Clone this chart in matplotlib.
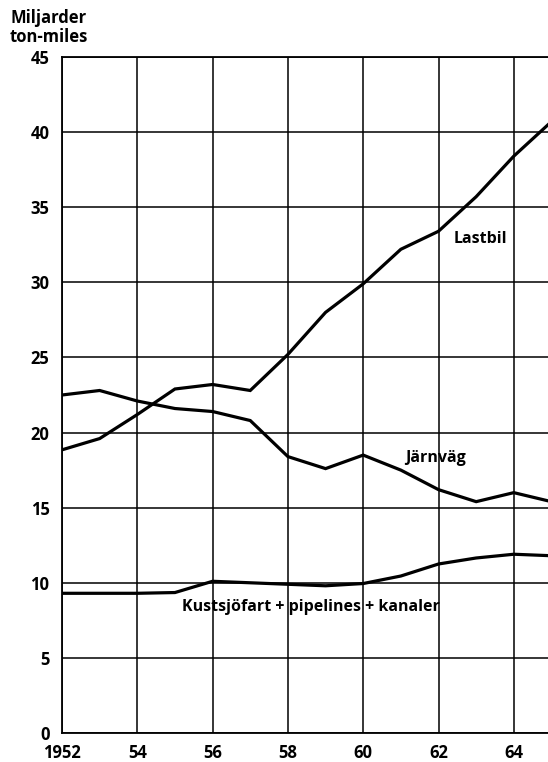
import matplotlib
matplotlib.use("Agg")
import matplotlib.pyplot as plt

years = list(range(1952, 1966))
lastbil = [18.85, 19.6, 21.2, 22.9, 23.2, 22.8, 25.2, 28.0, 29.9, 32.2, 33.4, 35.7, 38.4, 40.7]
jarnvag = [22.5, 22.8, 22.1, 21.6, 21.4, 20.8, 18.4, 17.6, 18.5, 17.5, 16.2, 15.4, 16.0, 15.4]
kust = [9.3, 9.3, 9.3, 9.35, 10.1, 10.0, 9.9, 9.8, 9.95, 10.45, 11.25, 11.65, 11.9, 11.8]
xticks = [1952, 1954, 1956, 1958, 1960, 1962, 1964]
xticklabels = ["1952", "54", "56", "58", "60", "62", "64"]
yticks = [0, 5, 10, 15, 20, 25, 30, 35, 40, 45]

plt.rcParams['font.family'] = ['Open Sans', 'DejaVu Sans']

fig = plt.figure(figsize=(5.48, 7.62), dpi=100)
ax = fig.add_axes([62/548, 29/762, 1 - 62/548, (733-57)/762])

for s in [lastbil, jarnvag, kust]:
    ax.plot(years, s, color='black', lw=2.3, solid_joinstyle='miter', zorder=3)

ax.set_xlim(1952, 1952 + (548-62)/37.65)
ax.set_ylim(0, 45)
ax.set_xticks(xticks)
ax.set_xticklabels(xticklabels, fontsize=12, fontweight='bold')
ax.set_yticks(yticks)
ax.set_yticklabels([str(v) for v in yticks], fontsize=12, fontweight='bold')
ax.tick_params(length=0, pad=9)
ax.tick_params(axis='x', pad=8)
ax.grid(True, color='black', lw=1.1)
for side in ['left', 'bottom', 'top']:
    ax.spines[side].set_linewidth(1.3)
ax.spines['right'].set_visible(False)

ax.text(1963.1, 32.9, "Lastbil", fontsize=11.5, fontweight='bold', ha='center', va='center')
ax.text(1961.93, 18.3, "Järnväg", fontsize=11.5, fontweight='bold', ha='center', va='center')
ax.text(1955.2, 8.4, "Kustsjöfart + pipelines + kanaler", fontsize=11.5, fontweight='bold',
        ha='left', va='center')

fig.text(10/548, 1 - 9/762, "Miljarder\nton-miles", fontsize=12, fontweight='bold',
         ha='left', va='top', linespacing=1.05)

fig.savefig("out.png", dpi=100)
